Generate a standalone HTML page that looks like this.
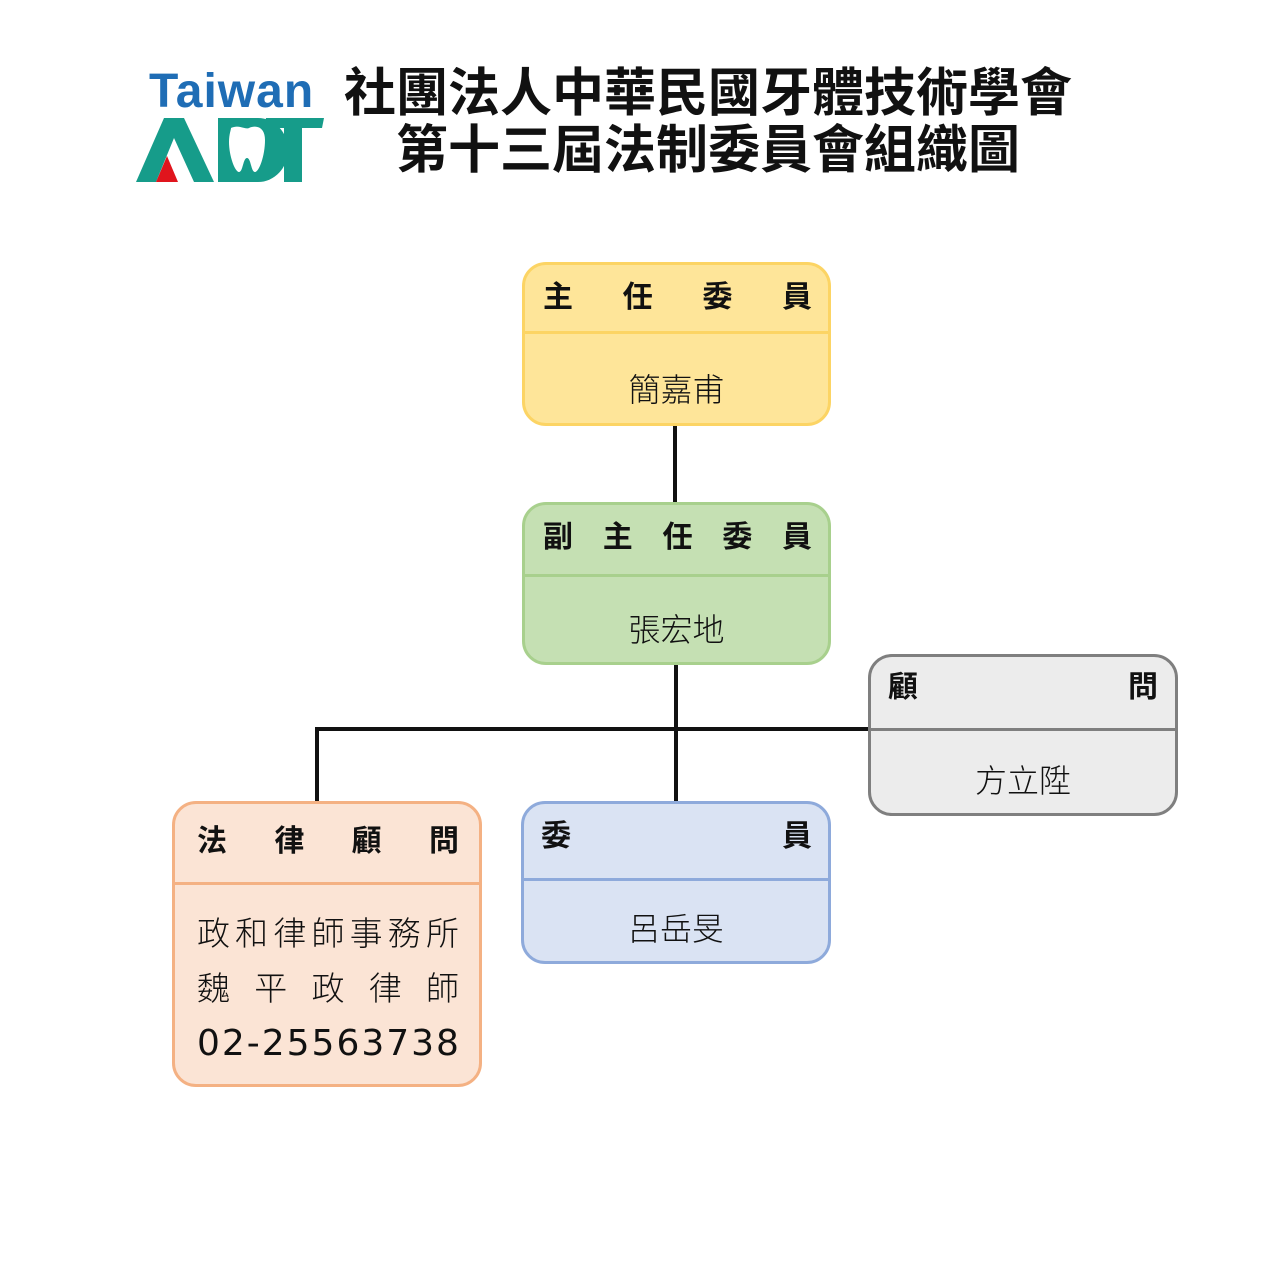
<!DOCTYPE html>
<html><head><meta charset="utf-8"><style>
body{margin:0;width:1280px;height:1280px;background:#fff;position:relative;overflow:hidden;font-family:"Liberation Sans","Noto Sans CJK TC",sans-serif;}
.a{position:absolute;}
.box{position:absolute;border:3px solid;border-radius:24px;box-sizing:border-box;}
.div{position:absolute;height:3px;}
.hd{position:absolute;display:flex;justify-content:space-between;font-weight:bold;font-size:30px;line-height:40px;color:#111;}
.nm{position:absolute;text-align:center;font-size:32px;line-height:40px;color:#111;font-weight:300;}
.ln{position:absolute;background:#111;}
</style></head><body>
<!-- logo -->
<div class="a" style="left:149px;top:64px;font-size:48px;font-weight:bold;color:#1f6db5;letter-spacing:1px;line-height:56px;">Taiwan</div>
<svg class="a" style="left:136px;top:116px" width="190" height="68" viewBox="0 0 190 68">
<polygon points="0,66 28,2 48,2 78,66 58,66 38,22 20,66" fill="#169c8a"/>
<polygon points="20,66 31,40 42,66" fill="#e0151d"/>
<path d="M82,2 h40 a30,32 0 0 1 0,64 h-40 z" fill="#169c8a"/>
<path d="M95,12 c8,-4 14,2 18,0 c6,-3 16,-2 16,12 c0,16 -6,32 -10,32 c-4,0 -4,-14 -8,-14 c-4,0 -4,14 -8,14 c-4,0 -10,-16 -10,-30 c0,-8 2,-12 2,-14z" fill="#fff"/>
<polygon points="130,2 188,2 186,12 166,12 166,66 148,66 148,12 128,12" fill="#169c8a"/>
</svg>
<!-- title -->
<div class="a" style="left:300px;width:816px;top:64px;text-align:center;font-size:52px;font-weight:bold;line-height:60px;color:#111;">社團法人中華民國牙體技術學會</div>
<div class="a" style="left:300px;width:816px;top:121px;text-align:center;font-size:52px;font-weight:bold;line-height:60px;color:#111;">第十三屆法制委員會組織圖</div>
<!-- lines -->
<div class="ln" style="left:673px;top:424px;width:4px;height:80px"></div>
<div class="ln" style="left:674px;top:663px;width:4px;height:140px"></div>
<div class="ln" style="left:315px;top:727px;width:556px;height:4px"></div>
<div class="ln" style="left:315px;top:727px;width:4px;height:76px"></div>
<!-- yellow -->
<div class="box" style="left:522px;top:262px;width:309px;height:164px;background:#fee599;border-color:#fcd464"></div>
<div class="div" style="left:525px;top:331px;width:303px;background:#fcd464"></div>
<div class="hd" style="left:543px;top:278px;width:269px"><span>主</span><span>任</span><span>委</span><span>員</span></div>
<div class="nm" style="left:522px;top:370px;width:309px">簡嘉甫</div>
<!-- green -->
<div class="box" style="left:522px;top:502px;width:309px;height:163px;background:#c5e0b3;border-color:#a8d08d"></div>
<div class="div" style="left:525px;top:574px;width:303px;background:#a8d08d"></div>
<div class="hd" style="left:543px;top:518px;width:269px"><span>副</span><span>主</span><span>任</span><span>委</span><span>員</span></div>
<div class="nm" style="left:522px;top:610px;width:309px">張宏地</div>
<!-- gray -->
<div class="box" style="left:868px;top:654px;width:310px;height:162px;background:#ececec;border-color:#7f7f7f"></div>
<div class="div" style="left:871px;top:728px;width:304px;background:#7f7f7f"></div>
<div class="hd" style="left:888px;top:668px;width:270px"><span>顧</span><span>問</span></div>
<div class="nm" style="left:868px;top:761px;width:310px">方立陞</div>
<!-- orange -->
<div class="box" style="left:172px;top:801px;width:310px;height:286px;background:#fbe4d5;border-color:#f4b183"></div>
<div class="div" style="left:175px;top:882px;width:304px;background:#f4b183"></div>
<div class="hd" style="left:197px;top:822px;width:262px"><span>法</span><span>律</span><span>顧</span><span>問</span></div>
<div class="hd" style="left:197px;top:914px;width:262px;font-weight:300;font-size:33px"><span>政</span><span>和</span><span>律</span><span>師</span><span>事</span><span>務</span><span>所</span></div>
<div class="hd" style="left:197px;top:969px;width:262px;font-weight:300;font-size:33px"><span>魏</span><span>平</span><span>政</span><span>律</span><span>師</span></div>
<div class="hd" style="left:197px;top:1024px;width:262px;font-weight:normal;font-size:36px;font-family:'DejaVu Sans',sans-serif"><span>0</span><span>2</span><span>-</span><span>2</span><span>5</span><span>5</span><span>6</span><span>3</span><span>7</span><span>3</span><span>8</span></div>
<!-- blue -->
<div class="box" style="left:521px;top:801px;width:310px;height:163px;background:#dae3f3;border-color:#8eaadb"></div>
<div class="div" style="left:524px;top:878px;width:304px;background:#8eaadb"></div>
<div class="hd" style="left:541px;top:817px;width:271px"><span>委</span><span>員</span></div>
<div class="nm" style="left:521px;top:909px;width:310px">呂岳旻</div>
</body></html>
